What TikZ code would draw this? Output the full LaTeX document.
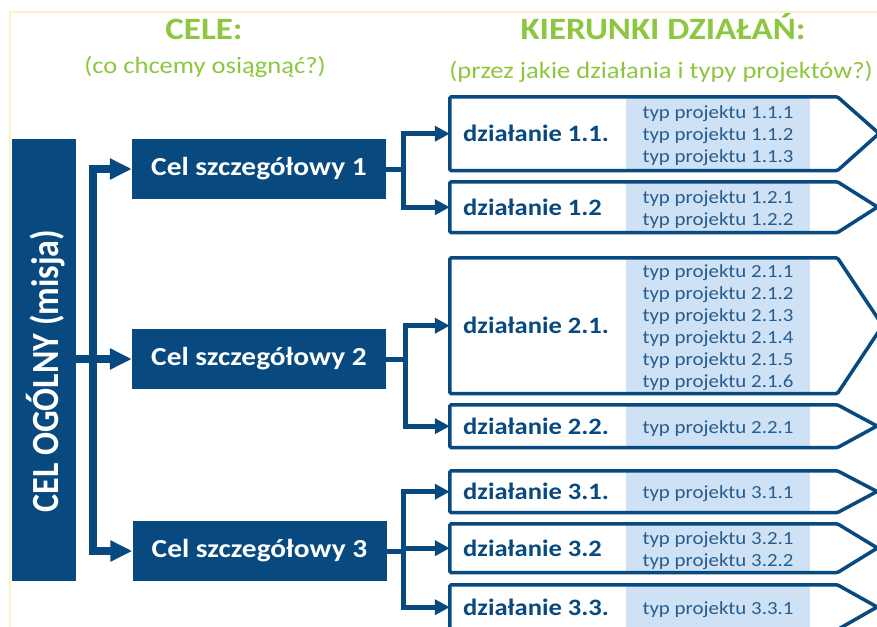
\documentclass[tikz,border=0pt]{standalone}
\usepackage{fontspec}
\usepackage{graphicx}
\setmainfont{Carlito}[FakeStretch=1.13]
\newfontfamily\plainfont{Carlito}
\usetikzlibrary{arrows.meta}
\definecolor{dblue}{RGB}{8,73,128}
\definecolor{lblue}{RGB}{207,226,245}
\definecolor{tblue}{RGB}{38,92,143}
\definecolor{lgreen}{RGB}{141,198,63}
\definecolor{framec}{RGB}{255,240,204}
\newcommand{\dzbox}[6]{%
  \fill[lblue] (626,#2) rectangle (810,#3);
  \node[inner sep=0pt, minimum width=387.25pt, minimum height={#3-#2-3.5}, anchor=north west] (#1) at (449.75,{#2+1.75}) {};
  \draw[dzline] (#1.north west) -- (#1.north east) -- ({#4},{(#2+#3)/2}) -- (#1.south east) -- (#1.south west) -- cycle;
  \node[dztext, anchor=west] (#1l) at (463,{(#2+#3)/2}) {#5};
  \node[typtext] (#1t) at (718,{(#2+#3)/2+2.5}) {#6};
}
\begin{document}
\begin{tikzpicture}[x=1pt,y=-1pt,
  bigarr/.style={draw=dblue, line width=8pt, -{Triangle[length=22pt,width=20pt]}, dblue},
  brline/.style={draw=dblue, line width=5pt},
  brarr/.style={draw=dblue, line width=5pt, -{Triangle[length=15pt,width=15pt]}, dblue},
  celbox/.style={fill=dblue, text=white, inner sep=0pt, minimum width=254pt, minimum height=60pt,
    font=\bfseries\fontsize{26}{30}\selectfont},
  dzline/.style={draw=dblue, line width=3.5pt, rounded corners=1.5pt},
  dztext/.style={text=dblue, inner sep=0pt, font=\bfseries\fontsize{23.5}{27}\selectfont},
  typtext/.style={text=tblue, inner sep=0pt, align=center, font=\fontsize{18.5}{22}\selectfont},
  title/.style={text=lgreen, inner sep=0pt, anchor=base, font=\bfseries\fontsize{31}{36}\selectfont},
  subtitle/.style={text=lgreen, inner sep=0pt, anchor=base, font=\fontsize{23.5}{28}\selectfont}
]
\useasboundingbox (0,0) rectangle (877,626);
\clip (0,0) rectangle (877,626);
\fill[white] (0,0) rectangle (877,626);
\draw[framec, line width=2pt] (10,640) -- (10,12) -- (890,12);

% titles
\node[title] (t1) at (204,40) {CELE:};
\node[subtitle] (s1) at (205,73) {(co chcemy osiągnąć?)};
\node[title] (t2) at (663,40) {KIERUNKI DZIAŁAŃ:};
\node[subtitle] (s2) at (661,78) {(przez jakie działania i typy projektów?)};

% general goal
\node[fill=dblue, inner sep=0pt, minimum width=64pt, minimum height=442pt] (go) at (44,360) {};
\node[text=white, inner sep=0pt, rotate=90, anchor=base] (gol) at (58,371)
  {\plainfont\bfseries\fontsize{34}{40}\selectfont\scalebox{1}[1.13]{CEL OGÓLNY (misja)}};

% specific goals
\node[celbox] (c1) at (259,169) {Cel szczegółowy 1};
\node[celbox] (c2) at (259,359) {Cel szczegółowy 2};
\node[celbox] (c3) at (259.5,551) {Cel szczegółowy 3};

\coordinate (T) at (92.5,359);
\draw[bigarr] (T) -- (T|-c1.west) -- (c1.west);
\draw[bigarr] (T) -- (T|-c3.west) -- (c3.west);
\draw[bigarr] (go.east|-c2.west) -- (c2.west);

% actions
\dzbox{d11}{95}{172}{879}{działanie 1.1.}{typ projektu 1.1.1\\typ projektu 1.1.2\\typ projektu 1.1.3}
\dzbox{d12}{180}{234}{877.5}{działanie 1.2}{typ projektu 1.2.1\\typ projektu 1.2.2}
\dzbox{d21}{256}{395}{882.6}{działanie 2.1.}{\fontsize{18.5}{21.3}\selectfont typ projektu 2.1.1\\typ projektu 2.1.2\\typ projektu 2.1.3\\typ projektu 2.1.4\\typ projektu 2.1.5\\typ projektu 2.1.6}
\dzbox{d22}{403}{449}{877}{działanie 2.2.}{typ projektu 2.2.1}
\dzbox{d31}{469}{514}{877}{działanie 3.1.}{typ projektu 3.1.1}
\dzbox{d32}{522}{574}{877.4}{działanie 3.2}{typ projektu 3.2.1\\typ projektu 3.2.2}
\dzbox{d33}{583}{631}{877.1}{działanie 3.3.}{typ projektu 3.3.1}

% branches
\coordinate (B1) at (403,169);
\draw[brline] (c1.east) -- (B1);
\draw[brarr] (B1) |- (d11.west);
\draw[brarr] (B1) |- (d12.west);

\coordinate (B2) at (405,359);
\draw[brline] (c2.east) -- (B2);
\draw[brarr] (B2) |- (d21.west);
\draw[brarr] (B2) |- (d22.west);

\coordinate (B3) at (403,551);
\draw[brline] (c3.east) -- (B3);
\draw[brarr] (B3) |- (d31.west);
\draw[brarr] (B3) |- (d32.west);
\draw[brarr] (B3) |- (d33.west);
\end{tikzpicture}
\end{document}
